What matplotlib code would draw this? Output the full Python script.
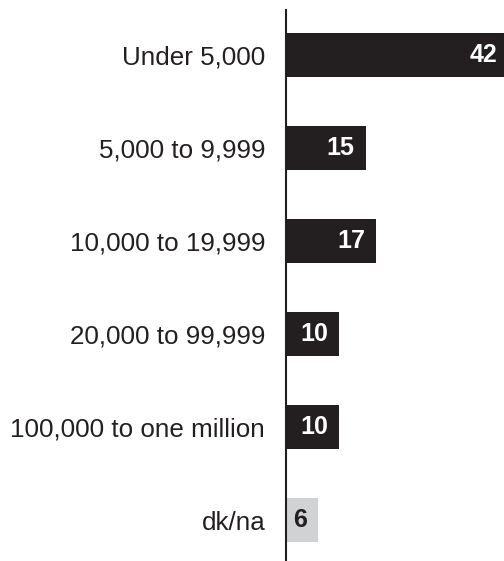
import matplotlib
matplotlib.use("Agg")
import matplotlib.pyplot as plt

categories = ["Under 5,000", "5,000 to 9,999", "10,000 to 19,999",
              "20,000 to 99,999", "100,000 to one million", "dk/na"]
values = [42, 15, 17, 10, 10, 6]
bar_colors = ["#231f20", "#231f20", "#231f20", "#231f20", "#231f20", "#d1d2d4"]
label_colors = ["white", "white", "white", "white", "white", "#231f20"]

plt.rcParams["font.family"] = ["Liberation Sans", "DejaVu Sans"]

W, H = 504, 561
fig = plt.figure(figsize=(W / 100, H / 100), dpi=100)
ax = fig.add_axes([286 / W, 0, (W - 286) / W, 551 / H])

pos = list(range(len(categories)))
ax.barh(pos, values, height=0.473, color=bar_colors, zorder=2)

ax.set_xlim(0, (W - 286) / 5.3)
ax.set_ylim(5.44, -0.484)

for p, v, c in zip(pos, values, label_colors):
    ax.annotate(str(v), xy=(v, p), xytext=(-8, 0), textcoords="offset points",
                ha="right", va="center", fontsize=18, fontweight="bold",
                color=c, zorder=3, annotation_clip=False)

ax.set_yticks(pos)
ax.set_yticklabels(categories, fontsize=18.7, color="#231f20")
ax.tick_params(axis="y", length=0, pad=15)
ax.set_xticks([])

for s in ["top", "right", "bottom"]:
    ax.spines[s].set_visible(False)
ax.spines["left"].set_color("#231f20")
ax.spines["left"].set_linewidth(1.5)
ax.spines["left"].set_zorder(4)

fig.savefig("out.png", dpi=100)
